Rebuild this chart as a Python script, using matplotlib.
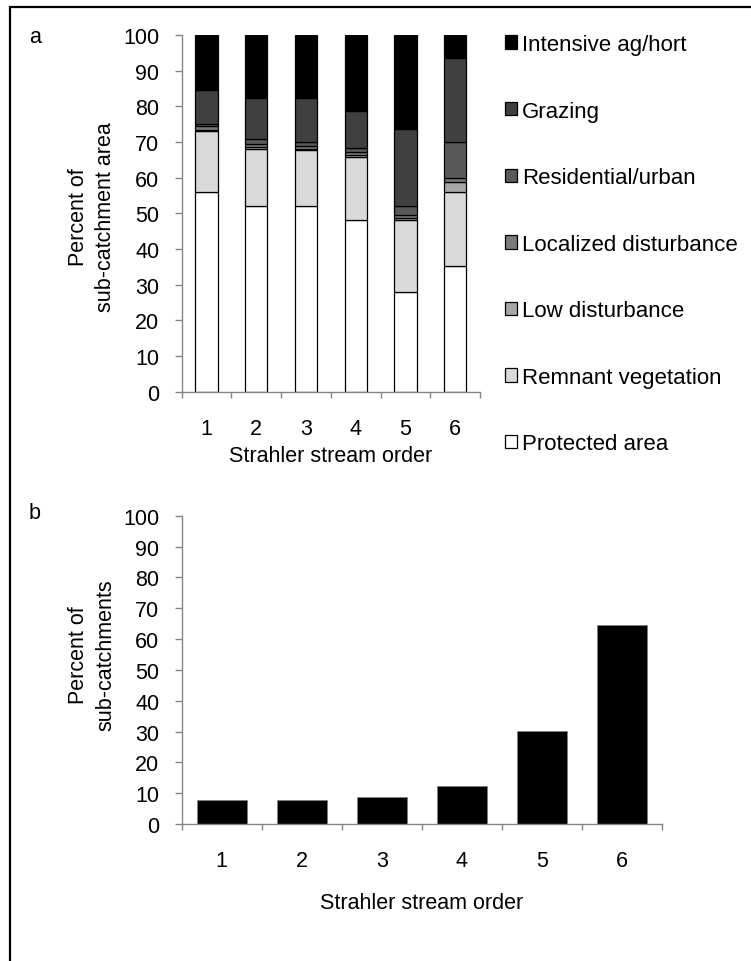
import numpy as np
import matplotlib
matplotlib.use('Agg')
import matplotlib.pyplot as plt
from matplotlib.patches import Rectangle

plt.rcParams['font.family'] = ['Liberation Sans', 'DejaVu Sans']

# stream orders
orders = ['1', '2', '3', '4', '5', '6']

# land use shares (percent of sub-catchment area), bottom to top
protected = [56.0, 52.0, 52.0, 48.0, 28.0, 35.3]
remnant = [17.0, 16.0, 15.7, 17.8, 20.0, 20.6]
low_dist = [0.5, 0.5, 0.4, 0.6, 0.8, 3.0]
localized = [1.0, 1.0, 0.9, 0.8, 0.8, 0.9]
residential = [0.5, 1.3, 0.9, 1.0, 2.4, 10.1]
grazing = [9.5, 11.5, 12.3, 10.6, 21.6, 23.6]
intensive = [15.5, 17.7, 17.8, 21.2, 26.4, 6.5]

# percent of sub-catchments per order
pct_sub = [7.9, 7.9, 8.6, 12.2, 30.3, 64.5]

series = [
    ('Protected area', protected, '#ffffff'),
    ('Remnant vegetation', remnant, '#d9d9d9'),
    ('Low disturbance', low_dist, '#a6a6a6'),
    ('Localized disturbance', localized, '#7a7a7a'),
    ('Residential/urban', residential, '#595959'),
    ('Grazing', grazing, '#404040'),
    ('Intensive ag/hort', intensive, '#000000'),
]

W, H = 751, 962
fs = 15.5
axcol = '#868686'

fig = plt.figure(figsize=(W / 100, H / 100), dpi=100)

def px_axes(x0, x1, y_top, y_bot):
    return fig.add_axes([x0 / W, 1 - y_bot / H, (x1 - x0) / W, (y_bot - y_top) / H])

def style(ax, n):
    for s in ['top', 'right']:
        ax.spines[s].set_visible(False)
    for s in ['left', 'bottom']:
        ax.spines[s].set_color(axcol)
        ax.spines[s].set_linewidth(1.0)
    ax.set_ylim(0, 100)
    ax.set_yticks(np.arange(0, 101, 10))
    ax.set_xlim(-0.5, n - 0.5)
    ax.set_xticks(np.arange(n))
    ax.set_xticklabels(orders)
    ax.set_xticks(np.arange(n + 1) - 0.5, minor=True)
    ax.tick_params(axis='y', length=5, width=1, color=axcol, pad=11, labelsize=fs)
    ax.tick_params(axis='x', which='major', length=0, pad=19, labelsize=fs)
    ax.tick_params(axis='x', which='minor', length=4.5, width=1, color=axcol)

x = np.arange(len(orders))

# panel a
ax1 = px_axes(181.7, 480, 36, 392.7)
bottom = np.zeros(len(orders))
for name, vals, col in series:
    ax1.bar(x, vals, 0.45, bottom=bottom, color=col, edgecolor='black',
            linewidth=0.9, label=name)
    bottom += np.array(vals)
style(ax1, len(orders))
ax1.set_xlabel('Strahler stream order', fontsize=fs, va='top')
ax1.xaxis.set_label_coords(0.5, -0.149)
ax1.set_ylabel('Percent of\nsub-catchment area', fontsize=fs, va='center',
               linespacing=1.4)
ax1.yaxis.set_label_coords((92 - 181.7) / 298.3, (392.7 - 217) / 356.7)

handles, labels = ax1.get_legend_handles_labels()
leg = fig.legend(handles[::-1], labels[::-1], loc='upper left',
                 bbox_to_anchor=(505 / W, 1 - 35 / H), frameon=False,
                 fontsize=16, handlelength=0.55, handleheight=0.55,
                 handletextpad=0.2, labelspacing=2.05, borderpad=0,
                 borderaxespad=0)

# panel b
ax2 = px_axes(181.7, 662, 516.7, 825)
ax2.bar(x, pct_sub, 0.63, color='black', edgecolor='#808080', linewidth=0.6)
style(ax2, len(orders))
ax2.set_xlabel('Strahler stream order', fontsize=fs, va='top')
ax2.xaxis.set_label_coords(0.5, (825 - 893) / 308.3)
ax2.set_ylabel('Percent of\nsub-catchments', fontsize=fs, va='center',
               linespacing=1.4)
ax2.yaxis.set_label_coords((92 - 181.7) / 480.3, (825 - 655) / 308.3)

fig.text(29 / W, 1 - 43.3 / H, 'a', fontsize=fs, va='baseline')
fig.text(29 / W, 1 - 519 / H, 'b', fontsize=fs, va='baseline')

# outer frame
fig.patches.append(Rectangle((10 / W, -0.1), 2.0, 1 - 8 / H + 0.1,
                             transform=fig.transFigure, fill=False,
                             edgecolor='black', linewidth=1.6))

fig.savefig('out.png', dpi=100)
